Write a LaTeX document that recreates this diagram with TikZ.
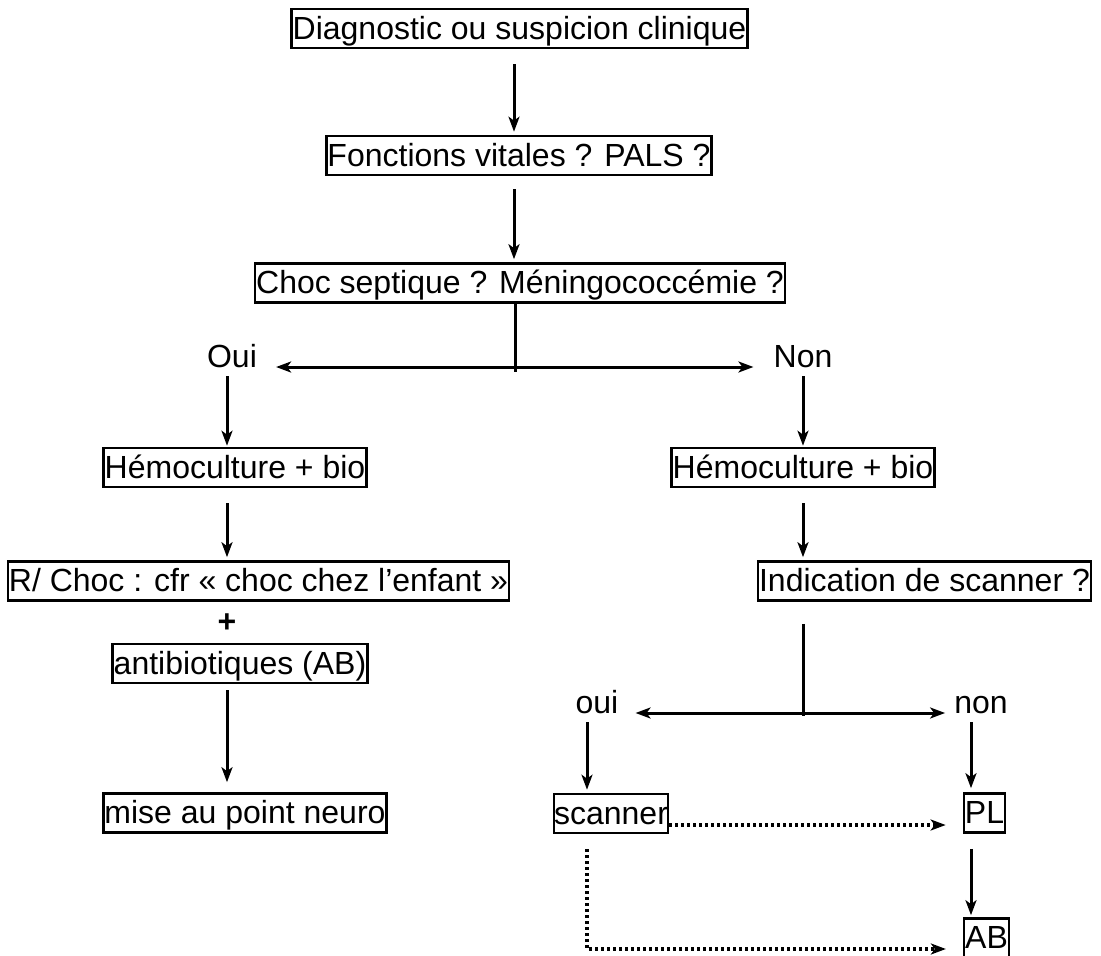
\documentclass[tikz,border=0pt]{standalone}
\usepackage{fontspec}
\setmainfont{Liberation Sans}
\usetikzlibrary{arrows.meta,calc}
\tikzset{
  boxnode/.style={draw=black, line width=2.6pt, inner xsep=1pt, inner ysep=1pt,
    text height=29pt, text depth=8pt, font=\fontsize{32}{38}\selectfont},
  lbl/.style={inner sep=0pt, text height=23pt, text depth=0pt, anchor=base,
    font=\fontsize{32}{38}\selectfont},
  arr/.style={line width=3pt, -{Stealth[length=15pt,width=11pt,inset=4pt]}},
  plain/.style={line width=3pt},
  dotarr/.style={line width=3.2pt, dash pattern=on 3pt off 3pt,
    -{Stealth[length=15pt,width=11pt,inset=4pt]}}
}
\begin{document}
\begin{tikzpicture}[x=1pt,y=-1pt]
\fill[white] (0,0) rectangle (1101,956);
\useasboundingbox (0,0) rectangle (1101,956);

% boxes
\node[boxnode] (b1) at (519.5,28.5) {Diagnostic ou suspicion clinique};
\node[boxnode] (b2) at (519,155.5) {Fonctions vitales ? PALS ?};
\node[boxnode] (b3) at (520,283) {Choc septique ? Méningococcémie ?};
\node[boxnode] (hb1) at (235,467.5) {Hémoculture + bio};
\node[boxnode] (rc) at (258.5,581) {R/ Choc : cfr « choc chez l’enfant »};
\node[font=\fontsize{32}{38}\selectfont\bfseries, inner sep=0pt] (plus) at (227,623) {+};
\node[boxnode] (ab) at (240,663.5) {antibiotiques (AB)};
\node[boxnode] (mp) at (245,813) {mise au point neuro};
\node[boxnode] (hb2) at (803,467.5) {Hémoculture + bio};
\node[boxnode] (ind) at (924.5,581) {Indication de scanner ?};
\node[boxnode, inner xsep=0pt] (sc) at (611,813.5) {scanner};
\node[boxnode] (pl) at (984.5,813) {PL};
\node[boxnode] (abx) at (986.5,938) {AB};

% labels
\node[lbl] (oui) at (232,367) {Oui};
\node[lbl] (non) at (803,367) {Non};
\node[lbl] (oui2) at (597,713) {oui};
\node[lbl] (non2) at (981,713) {non};

% column coordinates
\coordinate (c1) at (514,0);
\coordinate (c2) at (227,0);
\coordinate (c3) at (803,0);
\coordinate (c5) at (587,0);
\coordinate (c6) at (971,0);
\coordinate (j1) at (515,367);
\coordinate (j1b) at (515,372);
\coordinate (j2) at (803,713);
\coordinate (j2b) at (803,716);
\coordinate (d1) at (0,825);
\coordinate (d2) at (0,949);

% main column
\draw[arr, shorten <=15pt, shorten >=3pt] (b1.south -| c1) -- (b2.north -| c1);
\draw[arr, shorten <=13pt, shorten >=3pt] (b2.south -| c1) -- (b3.north -| c1);
\draw[plain] (b3.south -| j1) -- (j1b);
\draw[arr, shorten >=19pt] (j1) -- (oui.east |- j1);
\draw[arr, shorten >=20pt] (j1) -- (non.west |- j1);

% left branch
\draw[arr, shorten <=9pt, shorten >=1pt] (oui.south -| c2) -- (hb1.north -| c2);
\draw[arr, shorten <=15pt, shorten >=3pt] (hb1.south -| c2) -- (rc.north -| c2);
\draw[arr, shorten <=6pt, shorten >=10pt] (ab.south -| c2) -- (mp.north -| c2);

% right branch
\draw[arr, shorten <=9pt, shorten >=1pt] (non.south -| c3) -- (hb2.north -| c3);
\draw[arr, shorten <=15pt, shorten >=3pt] (hb2.south -| c3) -- (ind.north -| c3);
\draw[plain, shorten <=22pt] (ind.south -| j2) -- (j2b);
\draw[arr, shorten >=17pt] (j2) -- (oui2.east |- j2);
\draw[arr, shorten >=9pt] (j2) -- (non2.west |- j2);
\draw[arr, shorten <=9pt, shorten >=3pt] (oui2.south -| c5) -- (sc.north -| c5);
\draw[arr, shorten <=9pt, shorten >=4pt] (non2.south -| c6) -- (pl.north -| c6);
\draw[arr, shorten <=15pt, shorten >=2pt] (pl.south -| c6) -- (abx.north -| c6);

% dotted
\draw[dotarr, shorten >=17pt] (sc.east |- d1) -- (pl.west |- d1);
\draw[dotarr, shorten <=15pt, shorten >=17pt] (sc.south -| c5) -- (c5 |- d2) -- (abx.west |- d2);
\end{tikzpicture}
\end{document}
